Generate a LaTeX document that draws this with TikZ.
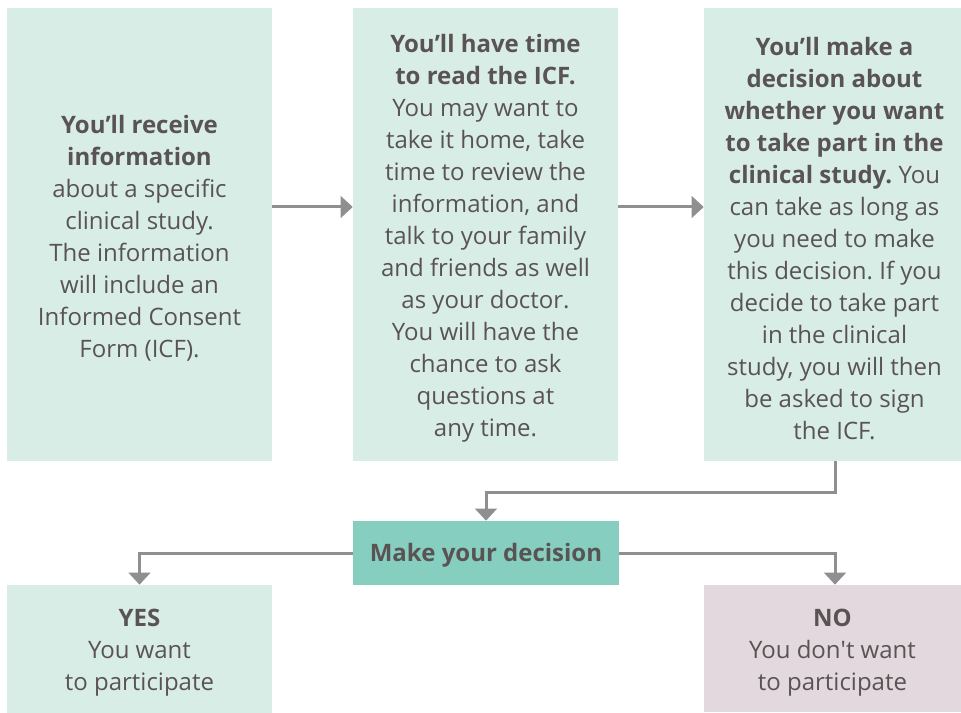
\documentclass[tikz,border=0pt]{standalone}
\usepackage{fontspec}
\setmainfont{Open Sans}
\newfontfamily\plainos{Open Sans}
\usetikzlibrary{arrows.meta,calc}
\definecolor{lightgreen}{HTML}{D8EDE6}
\definecolor{teal2}{HTML}{86CFC0}
\definecolor{pinkgray}{HTML}{E2D8DD}
\definecolor{txt}{HTML}{5A5353}
\definecolor{arrgray}{HTML}{8F8F8F}
\tikzset{
  box/.style={fill=lightgreen, draw=none, inner sep=0pt},
  decbox/.style={box, fill=teal2},
  nobox/.style={box, fill=pinkgray},
  txtnode/.style={inner sep=0pt, align=center, text=txt,
    font=\fontsize{18}{24}\selectfont\frenchspacing},
  arr/.style={draw=arrgray, line width=2.25pt, -{Triangle[width=16pt,length=9pt]}},
}
\begin{document}
\begin{tikzpicture}[x=0.75pt,y=-0.75pt]
\useasboundingbox (0,0) rectangle (961,713);
\node[box, minimum width=198.75pt, minimum height=339.75pt] (b1) at (139.5,234.5) {};
\node[box, minimum width=198.75pt, minimum height=339.75pt] (b2) at (485.5,234.5) {};
\node[box, minimum width=192.75pt, minimum height=339.75pt] (b3) at (832.5,234.5) {};
\node[decbox, minimum width=199.5pt, minimum height=48pt] (dec) at (486,553) {};
\node[box, minimum width=198.75pt, minimum height=96pt] (yes) at (139.5,649) {};
\node[nobox, minimum width=192.75pt, minimum height=95.25pt] (no) at (832.5,648.5) {};
\node[txtnode] (t1) at ([yshift=-3pt]b1.center)
 {\textbf{You’ll receive}\\ \textbf{information}\\ about a specific\\ clinical study.\\ The information\\ will include an\\ Informed Consent\\ Form (ICF).};
\node[txtnode] (t2) at ([yshift=-3pt]b2.center)
 {\textbf{You’ll have time}\\ \textbf{to read the ICF.}\\ You may want to\\ take it home, take\\ time to review the\\ information, and\\ talk to your family\\ and friends as well\\ as your doctor.\\ You will have the\\ chance to ask\\ questions at\\ any time.};
\node[txtnode] (t3) at ([xshift=1.5pt,yshift=-3pt]b3.center)
 {\textbf{You’ll make a}\\ \textbf{decision about}\\ \textbf{whether you want}\\ \textbf{to take part in the}\\ \textbf{clinical study.} You\\ can take as long as\\ you need to make\\ this decision. If you\\ decide to take part\\ in the clinical\\ study, you will then\\ be asked to sign\\ the ICF.};
\node[txtnode] (td) at ([yshift=-2pt]dec.center) {\textbf{Make your decision}};
\node[txtnode] (ty) at ([yshift=-3pt]yes.center) {\textbf{YES}\\ You want\\ to participate};
\node[txtnode] (tn) at ([yshift=-3pt]no.center) {\textbf{NO}\\ You don{\plainos'}t want\\ to participate};
\coordinate (r1) at (0,207);
\coordinate (k3) at (835,492);
\draw[arr] (b1.east |- r1) -- (b2.west |- r1);
\draw[arr] (b2.east |- r1) -- (b3.west |- r1);
\draw[arr] (b3.south -| k3) -- (k3) -| (dec.north);
\draw[arr] (dec.west) -| (yes.north);
\draw[arr] (dec.east) -| (no.north -| k3);
\end{tikzpicture}
\end{document}
